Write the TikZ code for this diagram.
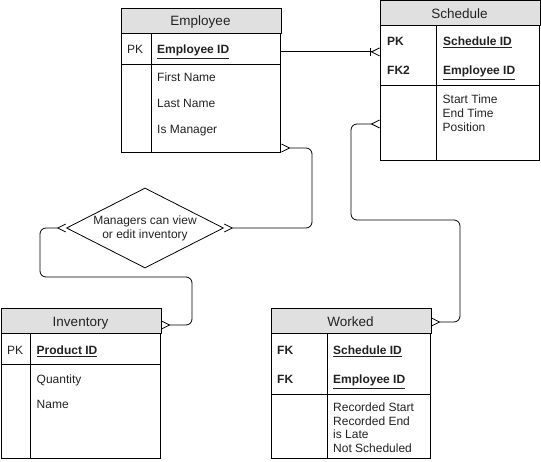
\documentclass[tikz,border=0pt]{standalone}
\usepackage{fontspec}
\setmainfont{Liberation Sans}
\usetikzlibrary{arrows.meta,shapes.geometric,calc}
\definecolor{hdr}{HTML}{E0E0E0}
\definecolor{txt}{HTML}{222222}
\begin{document}
\begin{tikzpicture}[x=1pt,y=-1pt,line width=1pt,
  tbl/.style={draw,anchor=north west,inner sep=0pt,minimum width=159pt},
  hd/.style={anchor=base,inner sep=0pt,font=\fontsize{13.5}{16}\selectfont,text=txt},
  fld/.style={anchor=base west,inner sep=0pt,font=\fontsize{12}{14}\selectfont,text=txt},
  crow/.tip={Straight Barb[reversed,length=8pt,width=8pt,line width=0.8pt]},
  onebar/.tip={Bar[width=8pt,line width=0.8pt]},
  conn/.style={rounded corners=6pt,line width=0.8pt}]
\useasboundingbox (0,0) rectangle (541,462);

% ---------- Employee ----------
\node[tbl,minimum height=143pt] (emp) at (121,9) {};
\filldraw[fill=hdr] (emp.north west) rectangle ($(emp.north east)+(0,25)$);
\draw ($(emp.north west)+(0,56)$) -- ($(emp.north east)+(0,56)$);
\draw ($(emp.north west)+(30,25)$) -- ($(emp.south west)+(30,0)$);
\node[hd] (empt) at (200.5,25.8) {Employee};
\node[fld] (epk) at (126.7,54) {PK};
\node[fld] (eid) at (156.7,54) {\textbf{\underline{Employee ID}}};
\node[fld] (efn) at (156.7,82) {First Name};
\node[fld] (eln) at (156.7,108) {Last Name};
\node[fld] (eim) at (156.7,133.5) {Is Manager};

% ---------- Schedule ----------
\node[tbl,minimum height=159pt] (sch) at (380,1) {};
\filldraw[fill=hdr] (sch.north west) rectangle ($(sch.north east)+(0,25)$);
\draw ($(sch.north west)+(0,85)$) -- ($(sch.north east)+(0,85)$);
\draw ($(sch.north west)+(56,25)$) -- ($(sch.south west)+(56,0)$);
\node[hd] (scht) at (459.5,18.8) {Schedule};
\node[fld] (spk) at (386.7,46) {\textbf{PK}};
\node[fld] (sid) at (442.7,46) {\textbf{\underline{Schedule ID}}};
\node[fld] (sfk) at (386.7,75) {\textbf{FK2}};
\node[fld] (seid) at (442.7,75) {\textbf{\underline{Employee ID}}};
\node[fld] (sst) at (442.2,103.5) {Start Time};
\node[fld] (set) at (442.2,117.5) {End Time};
\node[fld] (spo) at (442.2,131.5) {Position};

% ---------- Inventory ----------
\node[tbl,minimum height=149pt] (inv) at (1,309) {};
\filldraw[fill=hdr] (inv.north west) rectangle ($(inv.north east)+(0,25)$);
\draw ($(inv.north west)+(0,56)$) -- ($(inv.north east)+(0,56)$);
\draw ($(inv.north west)+(29,25)$) -- ($(inv.south west)+(29,0)$);
\node[hd] (invt) at (80.5,326.8) {Inventory};
\node[fld] (ipk) at (6.7,355) {PK};
\node[fld] (iid) at (36.2,355) {\textbf{\underline{Product ID}}};
\node[fld] (iqt) at (36.2,383) {Quantity};
\node[fld] (inm) at (36.2,408.5) {Name};

% ---------- Worked ----------
\node[tbl,minimum height=149pt] (wk) at (271,309) {};
\filldraw[fill=hdr] (wk.north west) rectangle ($(wk.north east)+(0,25)$);
\draw ($(wk.north west)+(0,85)$) -- ($(wk.north east)+(0,85)$);
\draw ($(wk.north west)+(56,25)$) -- ($(wk.south west)+(56,0)$);
\node[hd] (wkt) at (350.5,326.8) {Worked};
\node[fld] (wf1) at (276.7,355) {\textbf{FK}};
\node[fld] (wsid) at (332.7,355) {\textbf{\underline{Schedule ID}}};
\node[fld] (wf2) at (276.7,384) {\textbf{FK}};
\node[fld] (weid) at (332.7,384) {\textbf{\underline{Employee ID}}};
\node[fld] (wr1) at (332.7,411.7) {Recorded Start};
\node[fld] (wr2) at (332.7,425.2) {Recorded End};
\node[fld] (wr3) at (332.7,438.7) {is Late};
\node[fld] (wr4) at (332.7,452.2) {Not Scheduled};

% ---------- Relationship diamond ----------
\node[diamond,draw,line width=0.8pt,minimum width=157pt,minimum height=80pt,inner sep=0pt,aspect=1.96,
      align=center,font=\fontsize{12}{14}\selectfont,text=txt] (rel) at (145,228)
      {Managers can view\\or edit inventory};

% ---------- Connectors ----------
\draw[conn,-{onebar[sep=0pt]crow}] (emp.east |- eid) -- (sch.west |- eid);
\draw[conn,{crow}-{crow}] ($(emp.south east)+(0,-5)$) -- ++(31,0) |- (rel.east);
\draw[conn,{crow}-{crow}] (rel.west) -| (40,277) -| (192,325) -- ($(inv.north east)+(0,16)$);
\draw[conn,{crow}-{crow}] ($(sch.north west)+(0,123)$) -| (351,220) -| (460,322) -- ($(wk.north east)+(0,13)$);
\end{tikzpicture}
\end{document}
